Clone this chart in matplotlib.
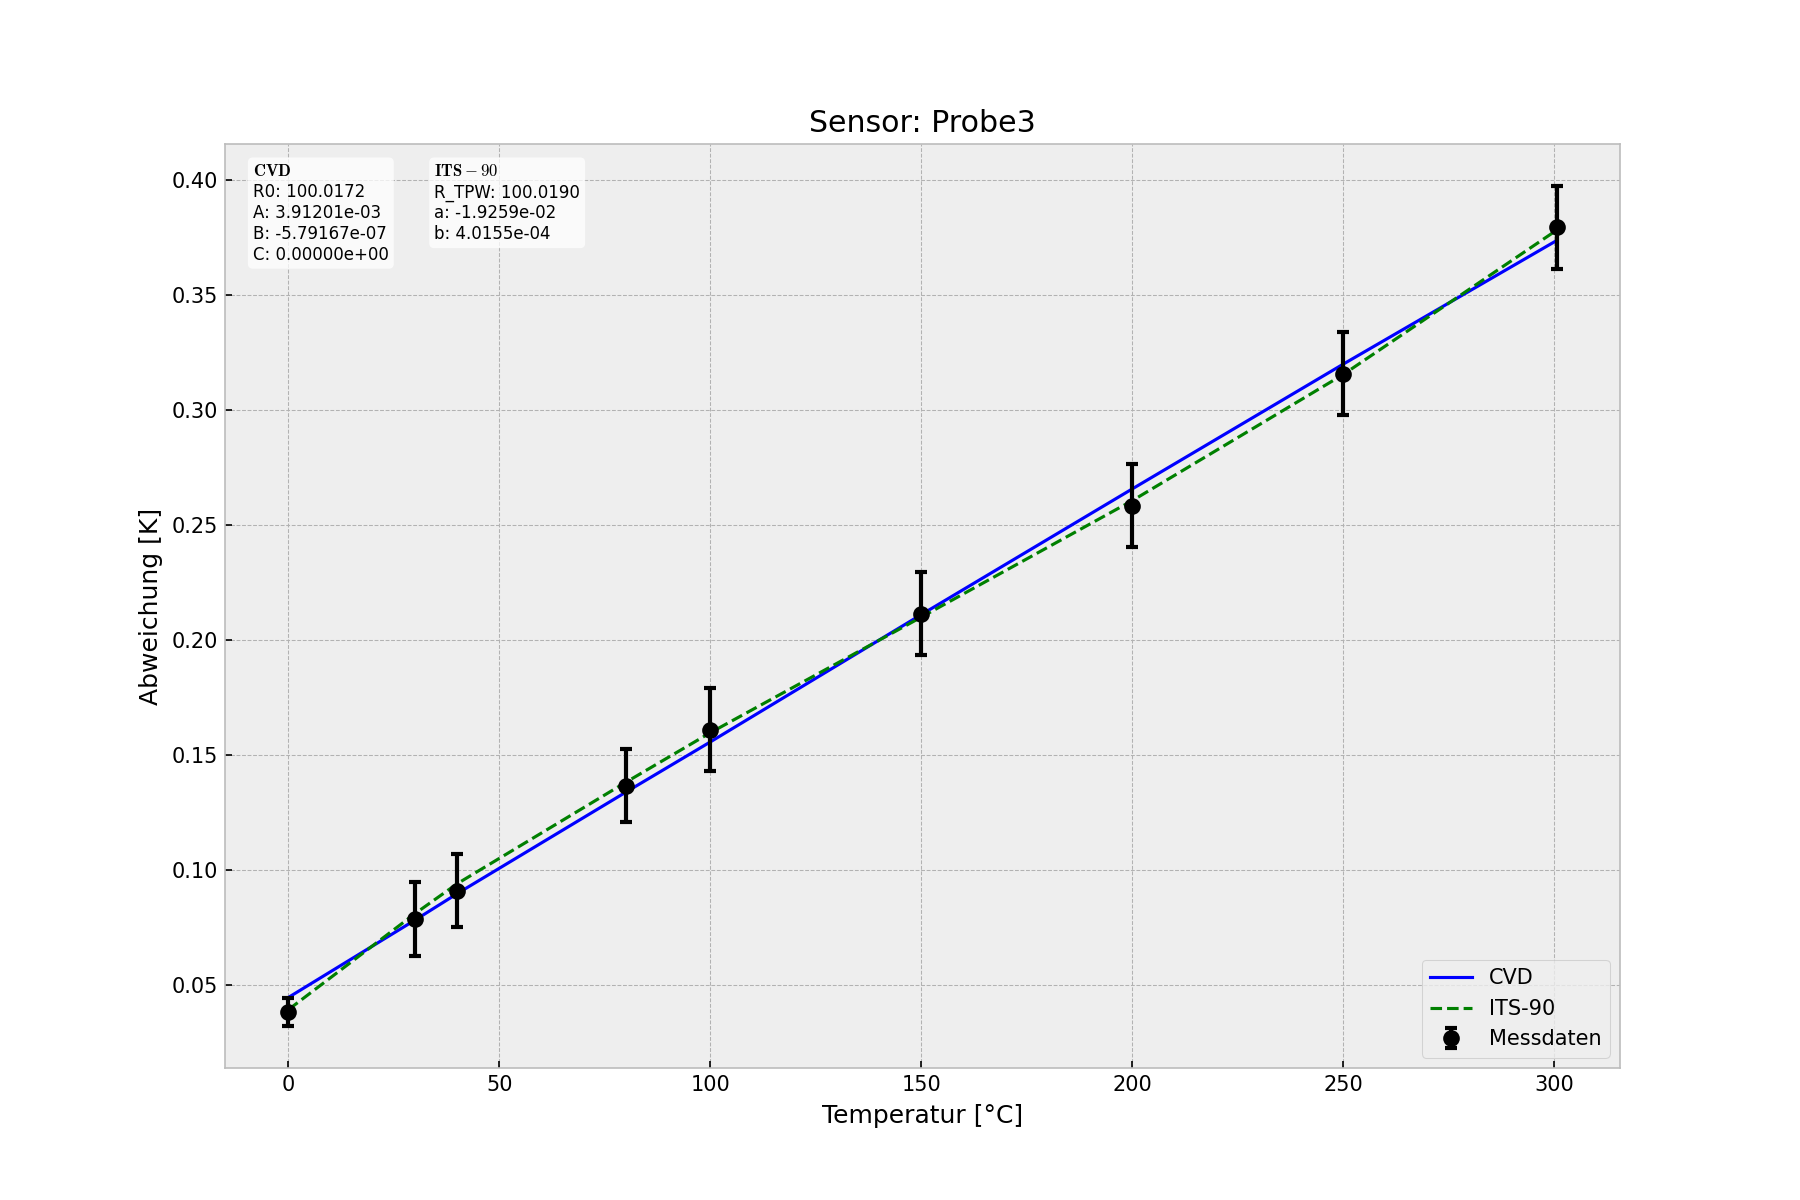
import numpy as np
import matplotlib
matplotlib.use("Agg")
import matplotlib.pyplot as plt

plt.style.use('bmh')
plt.rcParams['mathtext.fontset'] = 'cm'

# Messdaten
temps = [0, 30, 40, 80, 100, 150, 200, 250, 300.5]
abweichung = [0.0384, 0.0790, 0.0912, 0.1368, 0.1611, 0.2114, 0.2584, 0.3156, 0.3792]
fehler = [0.006, 0.016, 0.016, 0.016, 0.018, 0.018, 0.018, 0.018, 0.018]

cvd_fit = [0.0448, 0.0784, 0.0899, 0.1340, 0.1558, 0.2111, 0.2657, 0.3199, 0.3735]
its_fit = [0.0395, 0.0812, 0.0942, 0.1383, 0.1598, 0.2100, 0.2606, 0.3154, 0.3780]

cvd_text = "$\\bf{CVD}$\nR0: 100.0172\nA: 3.91201e-03\nB: -5.79167e-07\nC: 0.00000e+00"
its_text = "$\\bf{ITS}-90$\nR_TPW: 100.0190\na: -1.9259e-02\nb: 4.0155e-04"

fig, ax = plt.subplots(figsize=(12, 8), dpi=150)

ax.plot(temps, cvd_fit, 'b-', lw=1.5, label='CVD')
ax.plot(temps, its_fit, 'g--', lw=1.5, label='ITS-90')
ax.errorbar(temps, abweichung, yerr=fehler, fmt='o', color='black',
            markersize=7, elinewidth=2, capsize=3, capthick=2, label='Messdaten')

box = dict(boxstyle='round', facecolor='white', alpha=0.75, edgecolor='none')
ax.text(0.02, 0.98, cvd_text, transform=ax.transAxes, fontsize=8, va='top', bbox=box)
ax.text(0.15, 0.98, its_text, transform=ax.transAxes, fontsize=8, va='top', bbox=box)

ax.set_title('Sensor: Probe3')
ax.set_xlabel('Temperatur [°C]')
ax.set_ylabel('Abweichung [K]')
ax.legend(loc='lower right')

plt.savefig('out.png')
